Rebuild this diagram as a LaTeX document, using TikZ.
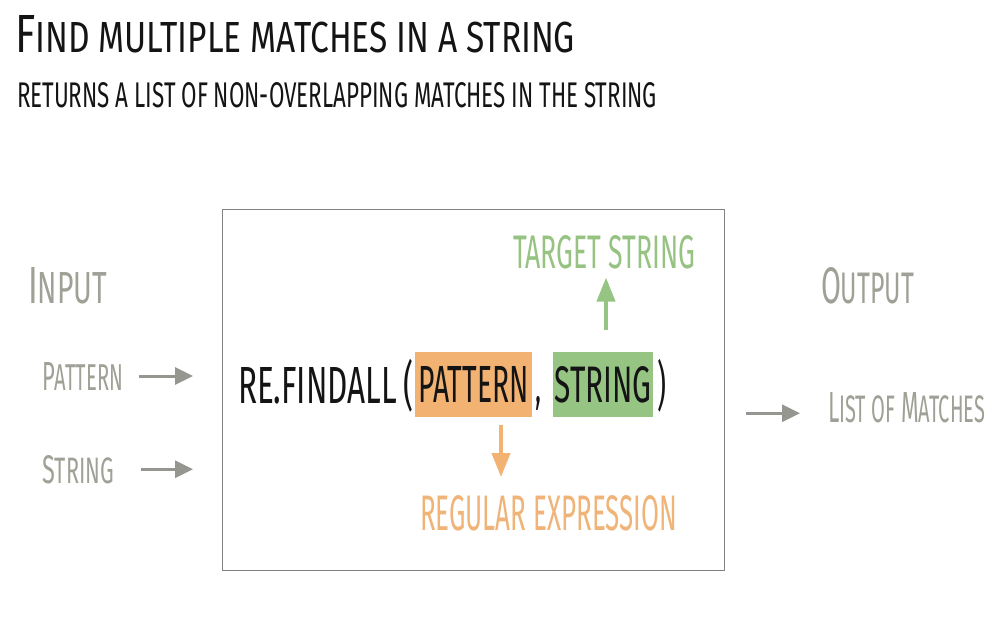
\documentclass[tikz,border=0pt]{standalone}
\usepackage{fontspec}
\usepackage{graphicx}
\setmainfont{Fira Sans}
\usetikzlibrary{arrows.meta,calc}
\definecolor{txtgray}{RGB}{160,160,150}
\definecolor{arrgray}{RGB}{150,150,145}
\definecolor{boxgray}{RGB}{130,130,130}
\definecolor{orgfill}{RGB}{241,178,114}
\definecolor{orgtxt}{RGB}{240,180,120}
\definecolor{grnfill}{RGB}{150,196,130}
\definecolor{grntxt}{RGB}{150,195,130}
\definecolor{ink}{RGB}{20,20,20}
\newcommand\fitbox[3]{\resizebox{#1pt}{#2pt}{#3}}
\newcommand\fitall[3]{\resizebox*{#1pt}{#2pt}{#3}}
\newcommand\smc[2][8]{{\fontsize{#1}{#1}\selectfont #2}}
\begin{document}
\begin{tikzpicture}[x=1pt,y=-1pt,
  lbl/.style={anchor=north west,inner sep=0pt,outer sep=0pt,font=\fontsize{10}{10}\selectfont},
  grayarrow/.style={draw=arrgray,line width=3pt,-{Triangle[width=17pt,length=18pt]}},
  hilite/.style={inner sep=0pt,outer sep=0pt,minimum height=65pt,font=\fontsize{10}{10}\selectfont}]
\useasboundingbox[fill=white] (0,0) rectangle (991,620);
% titles
\node[lbl,text=ink] (title) at (15,15) {\fitbox{560}{37}{F\smc[8.1]{IND MULTIPLE MATCHES IN A STRING}}};
\node[lbl,text=ink] (sub) at (17,83) {\fitbox{640}{25}{RETURNS A LIST OF NON-OVERLAPPING MATCHES IN THE STRING}};
% main box
\node[draw=boxgray,line width=0.8pt,minimum width=502pt,minimum height=361pt,inner sep=0pt,anchor=north west] (box) at (222,209) {};
% input side
\node[lbl,text=txtgray] (input) at (28,267) {\fitbox{79}{36}{I\smc[8.6]{NPUT}}};
\node[lbl,text=txtgray] (pattern) at (42,362) {\fitbox{81}{28}{P\smc[9.2]{ATTERN}}};
\node[lbl,text=txtgray] (string) at (42,455) {\fitbox{72}{28}{S\smc[9.2]{TRING}}};
% output side
\node[lbl,text=txtgray] (output) at (821,267) {\fitbox{93}{36}{O\smc[8.6]{UTPUT}}};
\node[lbl,text=txtgray] (list) at (828,392) {\fitbox{157}{30}{L\smc[8.8]{IST OF} M\smc[8.8]{ATCHES}}};
% function call
\node[lbl,text=ink] (fn) at (238,367) {\fitbox{159}{36}{RE.FINDALL}};
\node[lbl,text=ink] (lpar) at (403,359) {\fitall{10}{53}{(}};
\node[hilite,fill=orgfill,minimum width=117pt,text=ink] (pat) at (473.5,384.5) {\fitbox{110}{36}{PATTERN}};
\node[lbl,text=ink] (comma) at (535,396) {\fitall{6}{14}{,}};
\node[hilite,fill=grnfill,minimum width=100pt,text=ink] (str) at (603,384.5) {\fitbox{97}{36}{STRING}};
\node[lbl,text=ink] (rpar) at (657,359) {\fitall{9}{53}{)}};
% annotations
\node[lbl,text=grntxt] (tgt) at (513,235) {\fitbox{182}{33}{TARGET STRING}};
\node[lbl,text=orgtxt] (regex) at (420,495) {\fitbox{257}{35}{REGULAR EXPRESSION}};
% arrows
\draw[draw=grnfill,line width=4pt,-{Triangle[width=18pt,length=24pt]},shorten <=22pt,shorten >=9pt]
  ([xshift=3pt]str.north) -- ([xshift=3pt]str.north |- tgt.south);
\draw[draw=orgfill,line width=4pt,-{Triangle[width=18pt,length=24pt]},shorten <=8pt,shorten >=18pt]
  ([xshift=27.5pt]pat.south) -- ([xshift=27.5pt]pat.south |- regex.north);
\draw[grayarrow,shorten <=16pt,shorten >=29pt] (pattern.east) -- (pattern.east -| box.west);
\draw[grayarrow,shorten <=27pt,shorten >=29pt] (string.east) -- (string.east -| box.west);
\draw[grayarrow,shorten <=21pt,shorten >=28pt] ($(box.east |- list.west)+(0,6)$) -- ($(list.west)+(0,6)$);
\end{tikzpicture}
\end{document}
